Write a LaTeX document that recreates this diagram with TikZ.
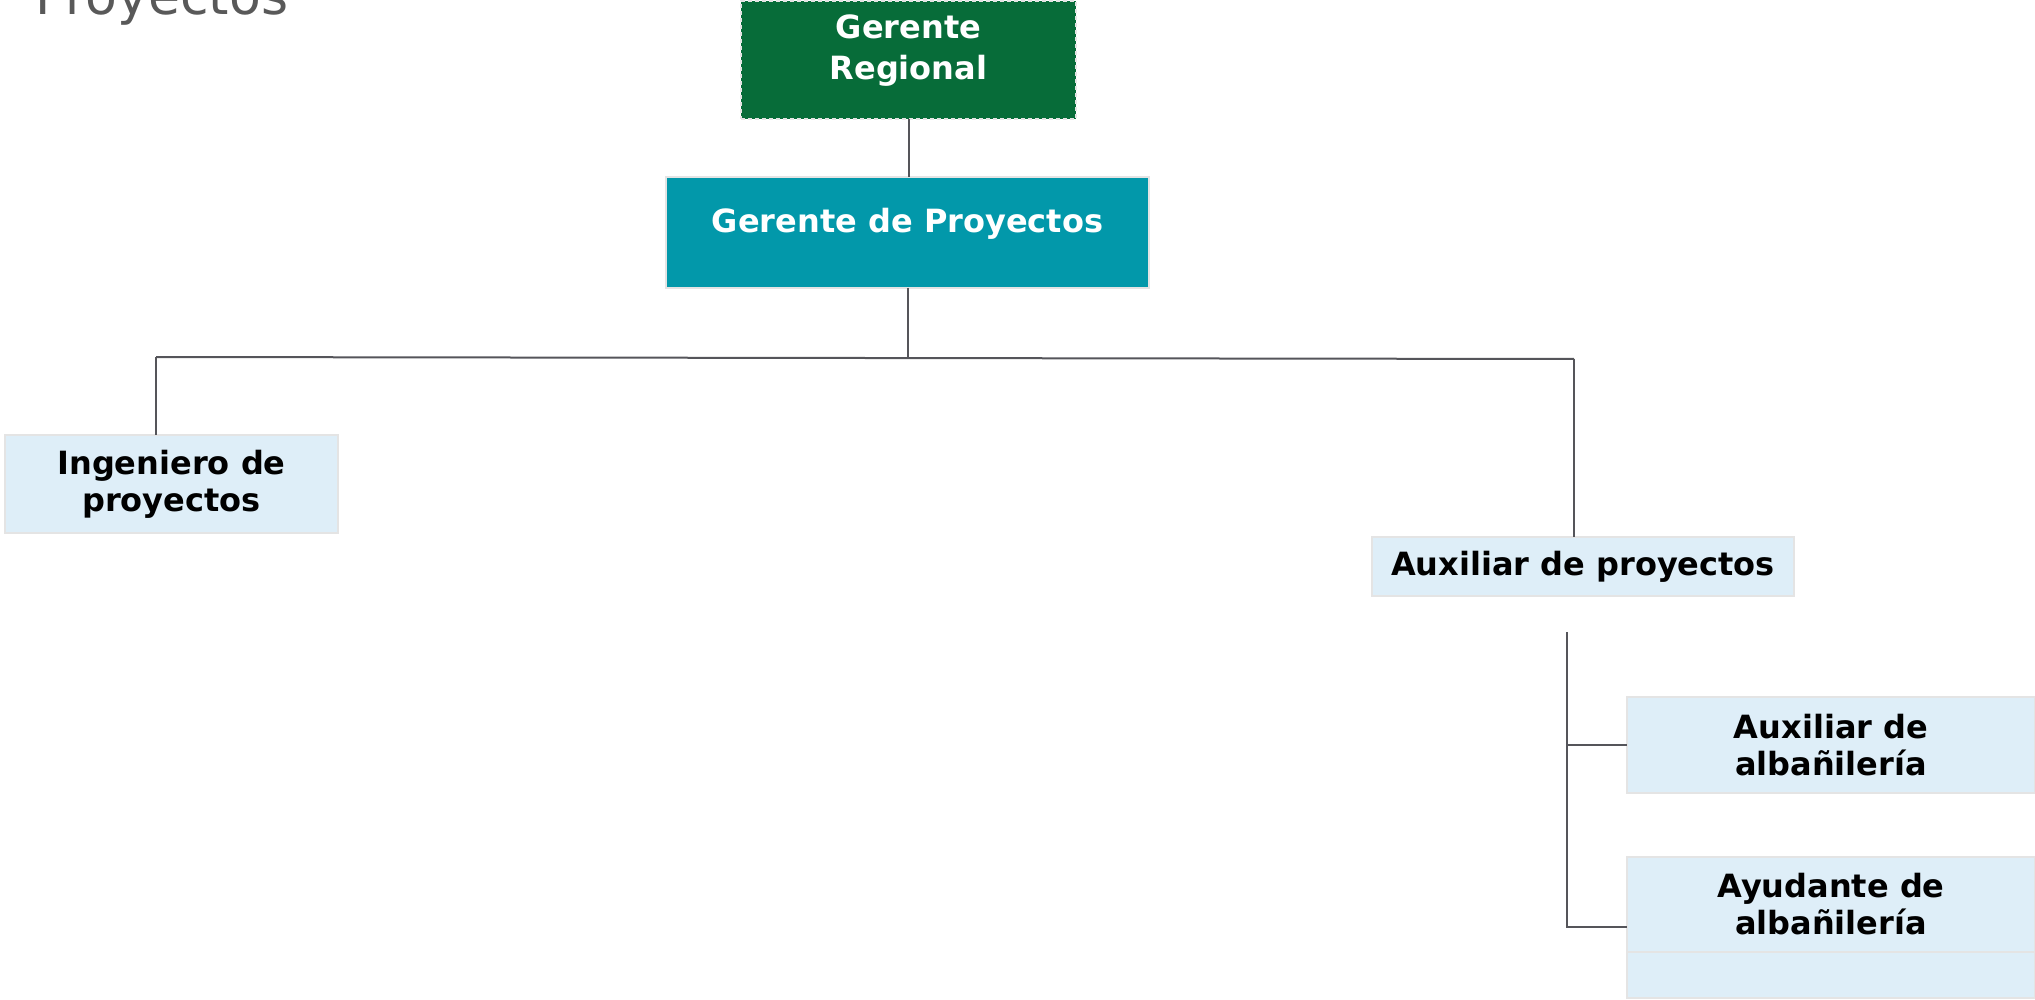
\documentclass[tikz,border=0pt]{standalone}
\usepackage{fontspec}
\setmainfont{DejaVu Sans}
\definecolor{regional}{HTML}{076C39}
\definecolor{proyectos}{HTML}{0298AA}
\definecolor{puesto}{HTML}{DEEEF8}
\definecolor{borde}{HTML}{E4E4E4}
\definecolor{linea}{HTML}{55555A}
\definecolor{titulo}{HTML}{595959}
\begin{document}
\begin{tikzpicture}[x=0.5pt, y=-0.5pt, line join=miter, every node/.style={outer sep=0pt, inner sep=0pt, align=center, font=\bfseries\fontsize{16}{18.5}\selectfont}, cargo/.style={draw=borde, line width=1pt, fill=puesto, text=black, minimum width=204pt}, conector/.style={draw=linea, line width=1pt}]
        \useasboundingbox (0, 0) rectangle (2035, 1000);
        \node[anchor=base west, font=\fontsize{26}{30}\selectfont, text=titulo] (titulo) at (35, 15) {Proyectos};
        \node[draw=borde, dash pattern=on 2pt off 1.5pt, line width=1pt, fill=regional, text=white, minimum width=167.5pt, minimum height=59pt, text height=32.5pt, text depth=12.5pt, font=\bfseries\fontsize{16}{20.5}\selectfont] (greg) at (908.5, 60) {Gerente\\Regional};
        \node[draw=borde, line width=1pt, fill=proyectos, text=white, minimum width=241.5pt, minimum height=55.5pt, text height=12pt, text depth=12pt] (gproy) at (907.5, 232.5) {Gerente de Proyectos};
        \node[cargo, minimum width=166.5pt, minimum height=49pt] (ing) at (171.5, 484) {Ingeniero de\\proyectos};
        \node[cargo, minimum width=211pt, minimum height=29.5pt] (aux) at (1583, 566.5) {Auxiliar de proyectos};
        \node[cargo, minimum height=48pt] (alb) at (1831, 745) {Auxiliar de\\albañilería};
        \node[cargo, minimum height=47.5pt] (ayud) at (1831, 904.5) {Ayudante de\\albañilería};
        \node[cargo, minimum height=23pt] (vacio) at (1831, 975) {};
        
        \coordinate (jm) at (907.5, 358);
        \coordinate (jl) at (156, 357);
        \coordinate (jr) at (1574, 359);
        \coordinate (vtop) at (1567, 632);
        \coordinate (vbot) at (1567, 927);
        
        \draw[conector] (greg.south) -- (greg.south |- gproy.north);
        \draw[conector] (gproy.south) -- (jm);
        \draw[conector] (jl) -- (jr);
        \draw[conector] (jl) -- (jl |- ing.north);
        \draw[conector] (jr) -- (jr |- aux.north);
        \draw[conector] (vtop) -- (vbot) -- (vbot -| ayud.west);
        \draw[conector] (vtop |- alb.west) -- (alb.west);
    \end{tikzpicture}
\end{document}
